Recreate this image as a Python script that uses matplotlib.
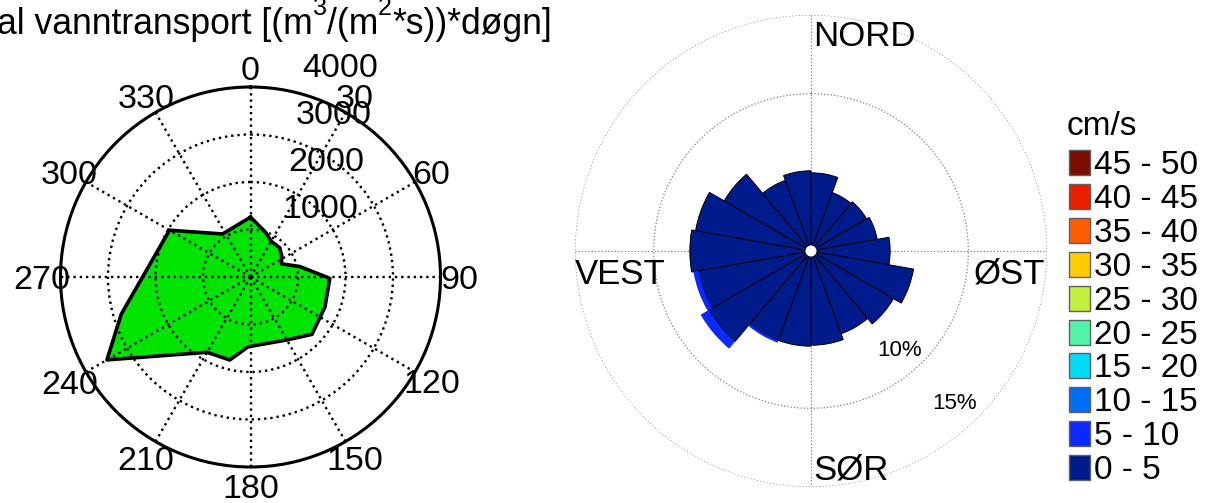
import numpy as np
import matplotlib
matplotlib.use('Agg')
import matplotlib.pyplot as plt
from matplotlib.patches import Rectangle
from matplotlib.transforms import offset_copy

plt.rcParams['font.family'] = ['Liberation Sans', 'DejaVu Sans']

# ---------------------------------------------------------
# data: left panel (vanntransport, polygon)
# ---------------------------------------------------------
transport_dir = [0, 18, 30, 45, 55, 67, 78, 91, 112, 133, 150, 182, 194, 210, 240, 254, 300, 327]
transport_val = [1260, 1000, 870, 870, 800, 710, 1060, 1670, 1690, 1770, 1530, 1470, 1800, 1830,
                 3490, 2830, 1970, 1080]
angle_labels = [0, 30, 60, 90, 120, 150, 180, 210, 240, 270, 300, 330]
r_labels = [1000, 2000, 3000, 4000]

# ---------------------------------------------------------
# data: right panel (strømrose, % per 20 deg sector)
# ---------------------------------------------------------
sector_dir = [10, 30, 50, 70, 90, 110, 130, 150, 170, 190, 210, 230, 250, 270, 290, 310, 330, 350]
freq_0_5 = [4.97, 3.95, 4.08, 4.27, 5.03, 6.62, 6.05, 5.6, 5.99, 6.05, 6.05, 7.5, 7.26, 7.7,
            7.45, 6.37, 4.78, 5.1]
freq_5_10 = [0, 0, 0, 0, 0, 0, 0, 0, 0, 0, 0.15, 0.6, 0.33, 0, 0, 0, 0, 0]
speed_bins = ['45 - 50', '40 - 45', '35 - 40', '30 - 35', '25 - 30', '20 - 25',
              '15 - 20', '10 - 15', '5 - 10', '0 - 5']
speed_colors = ['#7b0c00', '#e81e00', '#ff5c00', '#ffcc00', '#c2f03c', '#52f5a8',
                '#00dcf5', '#006ef5', '#0a28ff', '#001b8c']
compass = ['NORD', 'ØST', 'SØR', 'VEST']

W, H = 1222, 503


def fx(x):
    return x / W


def fy(y):
    return 1 - y / H


fig = plt.figure(figsize=(W / 100, H / 100), dpi=100)
renderer = fig.canvas.get_renderer()

# ---------------------------------------------------------
# left: polar polygon
# ---------------------------------------------------------
ax1 = fig.add_axes([fx(60.5), 36 / H, 380 / W, 380 / H], projection='polar')
ax1.set_theta_zero_location('N')
ax1.set_theta_direction(-1)
ax1.set_ylim(0, 4000)

th = np.radians(transport_dir + [transport_dir[0]])
rv = transport_val + [transport_val[0]]
ax1.fill(th, rv, color='#00e400', zorder=1, lw=0)
ax1.plot(th, rv, color='k', lw=2.6, zorder=3)

ax1.set_thetagrids(angle_labels, labels=[''] * len(angle_labels))
ax1.set_rgrids(r_labels[:-1], labels=[''] * 3)
ax1.grid(True, linestyle=':', color='k', lw=1.7)
ax1.spines['polar'].set_linewidth(2.2)
ax1.tick_params(length=0)

t_ang = offset_copy(ax1.transData, fig=fig, x=0, y=-12, units='dots')
for a in angle_labels:
    ax1.text(np.radians(a), 4400, str(a), transform=t_ang, ha='center', va='baseline',
             fontsize=24.5, clip_on=False)
t_r = offset_copy(ax1.transData, fig=fig, x=25, y=12, units='dots')
for r in r_labels:
    ax1.text(np.radians(8), r, str(r), transform=t_r, ha='left', va='baseline',
             fontsize=24.5, clip_on=False)

# tittel, satt sammen av biter slik at eksponentene ligger høyt som i originalen
title_parts = [('al vanntransport [(m', 25.6, 0), ('3', 18, 19), ('/(m', 25.6, 0),
               ('2', 18, 19), ('*s))*døgn]', 25.6, 0)]
xpos = -3
for txt, size, rise in title_parts:
    t = fig.text(fx(xpos), fy(34 - rise), txt, ha='left', va='baseline', fontsize=size)
    xpos += t.get_window_extent(renderer).width

# ---------------------------------------------------------
# right: current rose
# ---------------------------------------------------------
ax2 = fig.add_axes([fx(575), 16 / H, 472 / W, 472 / H], projection='polar')
ax2.set_theta_zero_location('N')
ax2.set_theta_direction(-1)
ax2.set_ylim(0, 15)
ax2.set_axisbelow(True)

th2 = np.radians(sector_dir)
wid = np.radians(20)
ax2.bar(th2, freq_0_5, width=wid, color=speed_colors[-1], edgecolor='k', lw=0.7, zorder=2)
ax2.bar(th2, freq_5_10, width=wid, bottom=freq_0_5, color=speed_colors[-2], edgecolor='none',
        lw=0, zorder=2)
ax2.bar(0, 0.35, width=2 * np.pi, color='white', edgecolor='none', zorder=4)

ax2.set_thetagrids([0, 90, 180, 270], labels=[''] * 4)
ax2.set_rgrids([10, 15], labels=['', ''])
ax2.grid(True, linestyle=':', color='#808080', lw=0.9)
ax2.spines['polar'].set_visible(False)
ax2.tick_params(length=0)

ax2.text(np.radians(138.3), 8.5, '10%', ha='center', va='center', fontsize=16)
ax2.text(np.radians(136.7), 13.35, '15%', ha='center', va='center', fontsize=16)

fig.text(fx(813), fy(46), compass[0], ha='left', va='baseline', fontsize=25)
fig.text(fx(1045), fy(284), compass[1], ha='right', va='baseline', fontsize=25)
fig.text(fx(813), fy(479), compass[2], ha='left', va='baseline', fontsize=25)
fig.text(fx(575), fy(284), compass[3], ha='left', va='baseline', fontsize=25)

# legend
fig.text(fx(1067), fy(135), 'cm/s', ha='left', va='baseline', fontsize=24)
for i, (lab, col) in enumerate(zip(speed_bins, speed_colors)):
    yc = 162.5 + i * 33.9
    fig.add_artist(Rectangle((fx(1069), fy(yc + 12.5)), 21 / W, 25 / H, facecolor=col,
                             edgecolor='#606060', lw=1, transform=fig.transFigure))
    fig.text(fx(1094), fy(yc + 11.5), lab, ha='left', va='baseline', fontsize=24)

fig.savefig('out.png', dpi=100)
